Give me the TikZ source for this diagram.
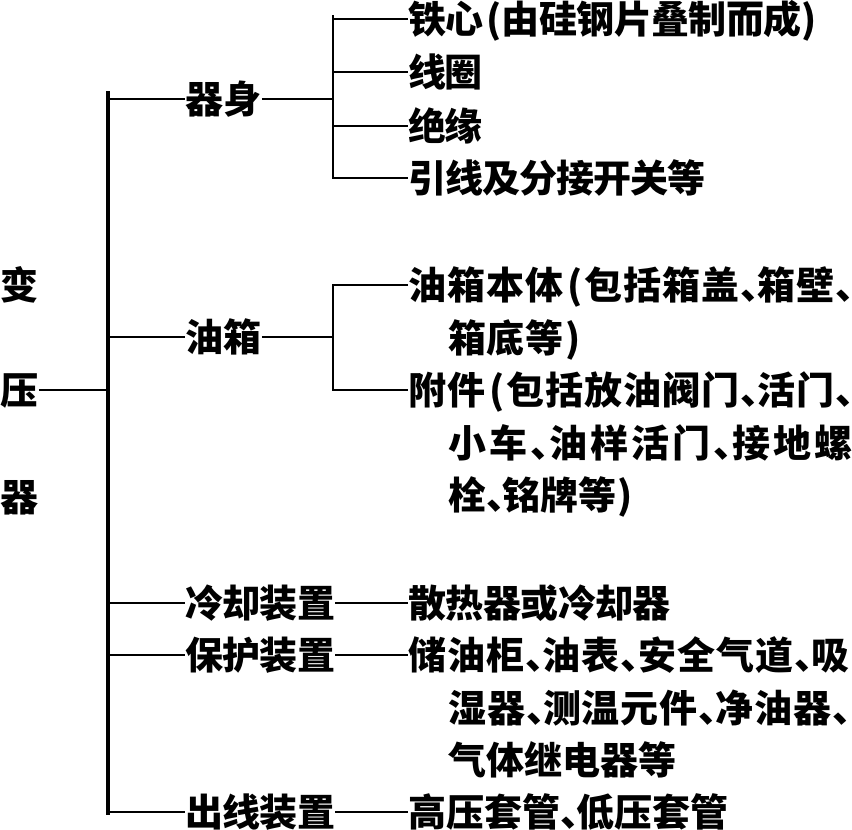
\documentclass[tikz,border=0pt]{standalone}
\usepackage{fontspec}
\setmainfont{Noto Sans CJK SC}
\newcommand\dunhao{\makebox[0.42em][l]{、}}
\newcommand\dunhaoend{\makebox[0.3em][l]{、}}
\newcommand\lpar{\kern1.5pt(\kern0.5pt}
\newcommand\rpar{\kern0.5pt)}
\makeatletter
\newcommand\spc[2]{\def\spc@k{#1}\spc@first#2\spc@end}
\def\spc@end{\spc@end}
\def\spc@first#1{#1\spc@loop}
\def\spc@loop#1{\ifx#1\spc@end\else\kern\spc@k\relax#1\expandafter\spc@loop\fi}
\makeatother
\begin{document}
\begin{tikzpicture}[x=0.5pt,y=-0.5pt,
  txt/.style={font=\fontsize{19}{19}\selectfont\bfseries, inner sep=0pt, anchor=west, text height=16.7pt, text depth=2.3pt},
  ln/.style={line width=1.1pt},
  busln/.style={line width=1.3pt},
  trunkln/.style={line width=1.8pt}]
\useasboundingbox[fill=white] (0,0) rectangle (852,830);
% root
\node[txt] (r1) at (0,285) {变};
\node[txt] (r2) at (0,390) {压};
\node[txt] (r3) at (0,497) {器};
% level 1
\node[txt] (body) at (185,99) {器身};
\node[txt] (tank) at (185,337) {油箱};
\node[txt] (cool) at (185,603) {\spc{-0.4pt}{冷却装置}};
\node[txt] (prot) at (185,655) {\spc{-0.4pt}{保护装置}};
\node[txt] (outl) at (185,812) {\spc{-0.4pt}{出线装置}};
% level 2
\node[txt] (core) at (408,19) {\spc{-0.3pt}{铁心\lpar 由硅钢片叠制而成\rpar}};
\node[txt] (coil) at (408,72) {\spc{-1pt}{线圈}};
\node[txt] (ins)  at (408,126) {\spc{-1pt}{绝缘}};
\node[txt] (lead) at (408,178) {\spc{-0.5pt}{引线及分接开关等}};
\node[txt] (tb1) at (408,285) {\spc{0.5pt}{油箱本体\lpar 包括箱盖\dunhao 箱壁\dunhaoend}};
\node[txt] (tb2) at (448,338) {\spc{0.3pt}{箱底等\rpar}};
\node[txt] (ac1) at (408,390) {\spc{0.5pt}{附件\lpar 包括放油阀门\dunhao 活门\dunhaoend}};
\node[txt] (ac2) at (448,443) {\spc{1.5pt}{小车\dunhao 油样活门\dunhao 接地螺}};
\node[txt] (ac3) at (448,495) {\spc{0pt}{栓\dunhao 铭牌等\rpar}};
\node[txt] (rad) at (408,603) {\spc{-0.3pt}{散热器或冷却器}};
\node[txt] (pr1) at (408,655) {\spc{0.55pt}{储油柜\dunhao 油表\dunhao 安全气道\dunhao 吸}};
\node[txt] (pr2) at (448,708) {\spc{0.45pt}{湿器\dunhao 测温元件\dunhao 净油器\dunhaoend}};
\node[txt] (pr3) at (448,760) {\spc{0pt}{气体继电器等}};
\node[txt] (bsh) at (408,812) {\spc{0pt}{高压套管\dunhao 低压套管}};
% trunk
\coordinate (tt) at (108,91);
\coordinate (tbot) at (108,815);
\draw[trunkln] (tt) -- (tbot);
\draw[ln] (r2.east) -- (r2.east -| tt);
\foreach \n in {body,tank,cool,prot,outl}
  \draw[ln] (\n.west -| tt) -- (\n.west);
% body bus
\coordinate (bb) at (333,99);
\coordinate (bbtop) at (333,15);
\draw[ln] (body.east) -- (bb);
\draw[busln] (bbtop) -- (bb) |- (lead.west);
\foreach \n in {core,coil,ins}
  \draw[ln] (\n.west -| bb) -- (\n.west);
% tank bus
\coordinate (tkb) at (333,337);
\draw[ln] (tank.east) -- (tkb);
\draw[busln] (tb1.west) -| (tkb) |- (ac1.west);
% direct
\draw[ln] (cool.east) -- (rad.west);
\draw[ln] (prot.east) -- (pr1.west);
\draw[ln] (outl.east) -- (bsh.west);
\end{tikzpicture}
\end{document}
